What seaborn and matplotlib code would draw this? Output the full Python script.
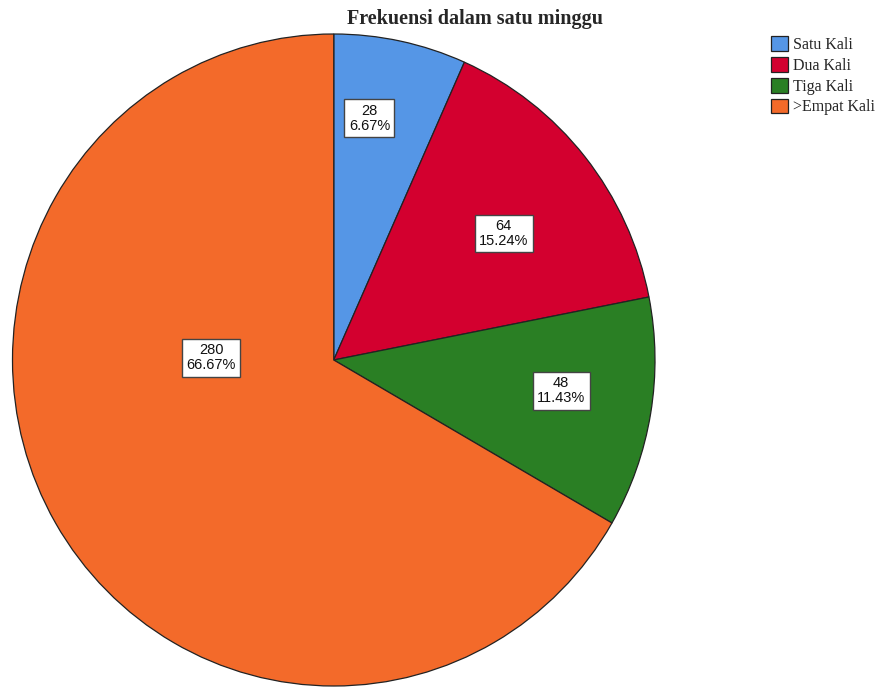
import matplotlib
matplotlib.use("Agg")
import matplotlib.pyplot as plt
import seaborn as sns

# data
categories = ["Satu Kali", "Dua Kali", "Tiga Kali", ">Empat Kali"]
counts = [28, 64, 48, 280]
colors = ["#5596E6", "#D3002F", "#2A7F24", "#F36A2A"]
# label box centres, in pie-radius units (SPSS style placement)
label_x = [0.111, 0.529, 0.708, -0.382]
label_y = [0.742, 0.388, -0.094, 0.007]

sns.set_theme(style="white")
plt.rcParams["font.family"] = ["Liberation Sans", "DejaVu Sans"]

fig = plt.figure(figsize=(8.86, 6.88), dpi=100)
# the reference pie is a touch taller than wide
ax = fig.add_axes([12.5 / 886, 2 / 688, 642.5 / 886, 652 / 688])

wedges, _ = ax.pie(counts, colors=colors, startangle=90, counterclock=False,
                   radius=1, wedgeprops=dict(edgecolor="#222222", linewidth=0.9))
ax.set_aspect("auto")
ax.set_xlim(-1.0, 1.0)
ax.set_ylim(-1.0, 1.0)
ax.axis("off")

total = sum(counts)
for n, x, y in zip(counts, label_x, label_y):
    ax.text(x, y, f"{n}\n{n / total * 100:.2f}%", ha="center", va="center",
            fontsize=10.5, linespacing=1.1, color="#111111",
            bbox=dict(boxstyle="square,pad=0.3", facecolor="white",
                      edgecolor="#444444", linewidth=1))

fig.text(475 / 886, 1 - 19 / 688, "Frekuensi dalam satu minggu", ha="center",
         va="center", fontsize=14.5, fontweight="bold",
         family=["Liberation Serif", "DejaVu Serif"])

leg = fig.legend(wedges, categories, loc="upper left",
                 bbox_to_anchor=(771 / 886, 1 - 36 / 688), frameon=False,
                 prop={"family": ["Liberation Serif", "DejaVu Serif"], "size": 11.5},
                 handlelength=1.05, handleheight=1.05, handletextpad=0.3,
                 labelspacing=0.25, borderpad=0, borderaxespad=0)

fig.savefig("out.png", dpi=100)
